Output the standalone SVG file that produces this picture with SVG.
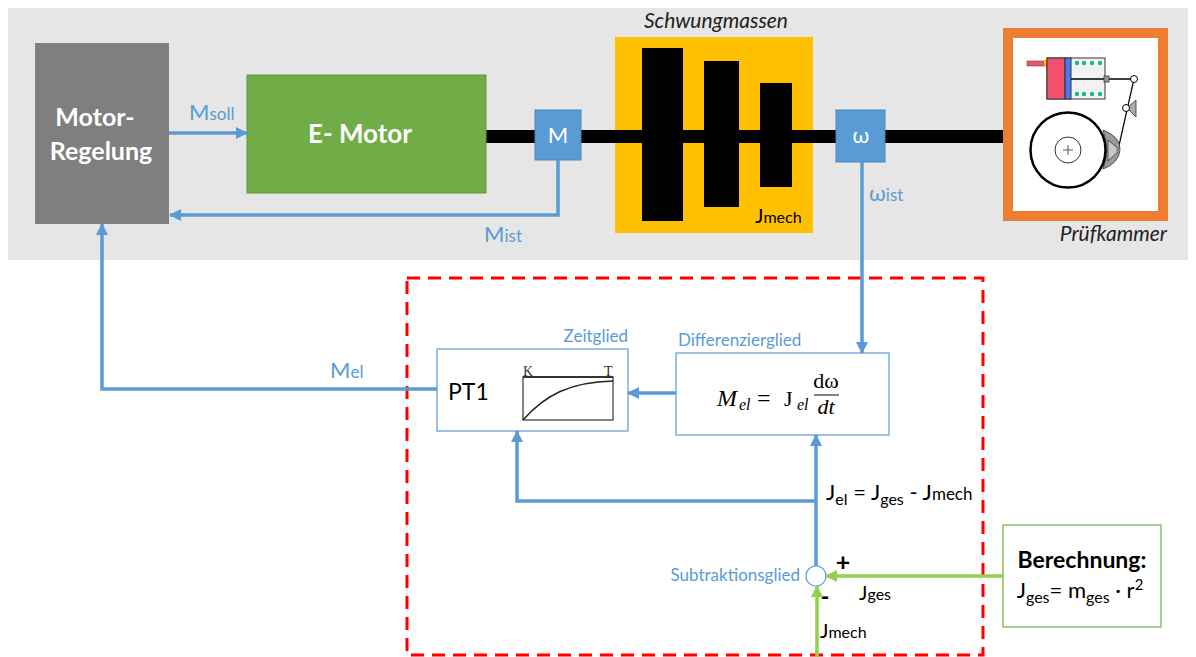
<svg xmlns="http://www.w3.org/2000/svg" width="1196" height="657" viewBox="0 0 1196 657">
  <defs>
    <style>
      .sans { font-family: Lato, "Open Sans", "Liberation Sans", sans-serif; }
      .serif { font-family: "Liberation Serif", "DejaVu Serif", serif; }
      .lbl { fill: #5b9bd5; }
      .small-lbl { font-size: 17px; }
      .blue-line { fill: none; stroke: #5b9bd5; stroke-width: 3.5; }
      .green-line { fill: none; stroke: #92d050; stroke-width: 3.5; }
      .thin-box { fill: #ffffff; stroke: #5b9bd5; stroke-width: 1.2; }
    </style>
    <marker id="arrow-blue" markerUnits="userSpaceOnUse" markerWidth="12" markerHeight="12" viewBox="0 0 12 12" refX="11" refY="6" orient="auto">
      <path d="M0,0 L12,6 L0,12 Z" fill="#5b9bd5"/>
    </marker>
    <marker id="arrow-green" markerUnits="userSpaceOnUse" markerWidth="12" markerHeight="12" viewBox="0 0 12 12" refX="11" refY="6" orient="auto">
      <path d="M0,0 L12,6 L0,12 Z" fill="#92d050"/>
    </marker>
  </defs>

  <rect width="1196" height="657" fill="#ffffff"/>

  <!-- test bench background -->
  <rect id="bench" x="8" y="8" width="1180" height="252" fill="#e7e6e6"/>

  <!-- flywheel housing -->
  <g id="schwungmassen">
    <rect x="615" y="37" width="198" height="196" fill="#ffc000"/>
    <text class="sans" x="716" y="28" font-size="21" font-style="italic" text-anchor="middle" fill="#222">Schwungmassen</text>
  </g>

  <!-- shaft -->
  <rect id="shaft" x="486" y="130" width="518" height="13" fill="#000"/>

  <g id="flywheel-discs" fill="#000">
    <rect x="642" y="48" width="41" height="173"/>
    <rect x="704" y="61" width="35" height="146"/>
    <rect x="760" y="83" width="32" height="104"/>
    <text class="sans" x="755" y="223" font-size="20" fill="#000">J<tspan font-size="16">mech</tspan></text>
  </g>

  <g id="motor-regelung">
    <rect x="35" y="43" width="134" height="181" fill="#7f7f7f"/>
    <text class="sans" x="95" y="126" font-size="25" font-weight="bold" text-anchor="middle" fill="#fff">Motor-</text>
    <text class="sans" x="101" y="160" font-size="25" font-weight="bold" text-anchor="middle" fill="#fff">Regelung</text>
  </g>

  <g id="e-motor">
    <rect x="247" y="75" width="239" height="118" fill="#70ad47" stroke="#5e9a3a" stroke-width="1"/>
    <text class="sans" x="360" y="143" font-size="26" font-weight="bold" text-anchor="middle" fill="#fff">E- Motor</text>
  </g>

  <g id="sensor-m">
    <rect x="535" y="110" width="46" height="50" fill="#5b9bd5" stroke="#4a86c0" stroke-width="1"/>
    <text class="sans" x="558" y="143" font-size="22" text-anchor="middle" fill="#fff">M</text>
  </g>

  <g id="sensor-omega">
    <rect x="836" y="110" width="49" height="52" fill="#5b9bd5" stroke="#4a86c0" stroke-width="1"/>
    <text class="sans" x="861" y="143" font-size="22" text-anchor="middle" fill="#fff">ω</text>
  </g>

  <g id="pruefkammer">
    <rect x="1008" y="33" width="155" height="183" fill="#ffffff" stroke="#ed7d31" stroke-width="10"/>
    <!-- actuator cylinder -->
    <rect x="1027" y="61" width="19" height="5" fill="#f4506e" stroke="#555" stroke-width="0.6"/>
    <rect x="1044" y="60" width="3" height="7" fill="#ffc000"/>
    <rect x="1047" y="58" width="58" height="41" fill="#f2f2f2" stroke="#333" stroke-width="1"/>
    <rect x="1047" y="58" width="18" height="41" fill="#f4506e" stroke="#333" stroke-width="1"/>
    <rect x="1065" y="58" width="6" height="41" fill="#4a78ee" stroke="#333" stroke-width="1"/>
    <g fill="#21b38a">
      <circle cx="1077" cy="63" r="2.2"/><circle cx="1084" cy="63" r="2.2"/><circle cx="1092" cy="63" r="2.2"/><circle cx="1100" cy="63" r="2.2"/>
      <circle cx="1077" cy="94" r="2.2"/><circle cx="1084" cy="94" r="2.2"/><circle cx="1092" cy="94" r="2.2"/><circle cx="1100" cy="94" r="2.2"/>
    </g>
    <line x1="1071" y1="79" x2="1134" y2="79" stroke="#000" stroke-width="1.6"/>
    <rect x="1104" y="76" width="5" height="6" fill="#999" stroke="#333" stroke-width="0.8"/>
    <!-- lever -->
    <polygon points="1127,108 1136,100 1136,117" fill="#aaa" stroke="#333" stroke-width="0.8"/>
    <line x1="1134" y1="79" x2="1118" y2="150" stroke="#000" stroke-width="1.2"/>
    <circle cx="1134" cy="79" r="3.5" fill="#fff" stroke="#000" stroke-width="1"/>
    <circle cx="1126" cy="108" r="3.5" fill="#fff" stroke="#000" stroke-width="1"/>
    <!-- brake shoe -->
    <path d="M1103,130 Q1121,137 1120,150 Q1119,163 1103,169 Q1110,150 1103,130 Z" fill="#9a9a9a" stroke="#333" stroke-width="0.8"/>
    <polygon points="1108,140 1120,150 1108,161" fill="#c8c8c8" stroke="#333" stroke-width="0.8"/>
    <circle cx="1118" cy="150" r="2" fill="#888"/>
    <!-- drum -->
    <circle cx="1068" cy="150" r="37.5" fill="#fff" stroke="#000" stroke-width="2.5"/>
    <circle cx="1068" cy="150" r="13" fill="none" stroke="#333" stroke-width="1"/>
    <path d="M1063,150 H1073 M1068,145 V155" stroke="#555" stroke-width="1"/>
    <text class="sans" x="1167" y="241" font-size="21" font-style="italic" text-anchor="end" fill="#222">Prüfkammer</text>
  </g>

  <!-- observer boundary -->
  <rect id="beobachter" x="407" y="278" width="576" height="377" fill="none" stroke="#ff0000" stroke-width="3" stroke-dasharray="13 8"/>

  <g id="pt1">
    <rect class="thin-box" x="437" y="349" width="191" height="82"/>
    <text class="sans" x="448" y="400" font-size="23" fill="#000">PT1</text>
    <rect x="523" y="377" width="90" height="43" fill="none" stroke="#333" stroke-width="1.2"/>
    <line x1="523" y1="377" x2="613" y2="377" stroke="#333" stroke-width="2"/>
    <path d="M523,420 C545,395 570,382 613,381" fill="none" stroke="#222" stroke-width="1.5"/>
    <text class="serif" x="523" y="376" font-size="14" fill="#333">K</text>
    <text class="serif" x="604" y="376" font-size="14" fill="#333">T</text>
    <text class="sans lbl small-lbl" x="628" y="342" text-anchor="end">Zeitglied</text>
  </g>

  <g id="differenzierglied">
    <rect class="thin-box" x="676" y="353" width="213" height="82"/>
    <text class="sans lbl small-lbl" x="678" y="346">Differenzierglied</text>
    <text class="serif" x="717" y="406" font-size="24" font-style="italic" fill="#000">M</text>
    <text class="serif" x="739" y="410" font-size="16" font-style="italic" fill="#000">el</text>
    <text class="serif" x="757" y="406" font-size="24" fill="#000">=</text>
    <text class="serif" x="784" y="406" font-size="22" fill="#000">J</text>
    <text class="serif" x="797" y="410" font-size="16" font-style="italic" fill="#000">el</text>
    <text class="serif" x="826" y="388" font-size="22" text-anchor="middle" fill="#000">dω</text>
    <line x1="814" y1="395" x2="839" y2="395" stroke="#000" stroke-width="1"/>
    <text class="serif" x="826" y="414" font-size="22" font-style="italic" text-anchor="middle" fill="#000">dt</text>
  </g>

  <g id="subtraktionsglied">
    <circle cx="816" cy="576" r="10" fill="#fff" stroke="#5b9bd5" stroke-width="1.2"/>
    <text class="sans lbl small-lbl" x="800" y="581" text-anchor="end">Subtraktionsglied</text>
    <text class="sans" x="843" y="571" font-size="25" font-weight="bold" text-anchor="middle" fill="#000">+</text>
    <text class="sans" x="825" y="605" font-size="24" font-weight="bold" text-anchor="middle" fill="#000">-</text>
  </g>

  <g id="berechnung">
    <rect x="1003" y="525" width="158" height="102" fill="#fff" stroke="#70ad47" stroke-width="1.2"/>
    <text class="sans" x="1082" y="568" font-size="23" font-weight="bold" text-anchor="middle" fill="#000">Berechnung:</text>
    <text class="sans" x="1080" y="598" font-size="22" text-anchor="middle" fill="#000">J<tspan font-size="16" dy="5">ges</tspan><tspan dy="-5">= m</tspan><tspan font-size="16" dy="5">ges</tspan><tspan dy="-5"> · r</tspan><tspan font-size="15" dy="-8">2</tspan></text>
  </g>

  <g id="connectors">
    <path class="blue-line" d="M169,133 H247" marker-end="url(#arrow-blue)"/>
    <path class="blue-line" d="M558,160 V215 H170" marker-end="url(#arrow-blue)"/>
    <path class="blue-line" d="M862,162 V353" marker-end="url(#arrow-blue)"/>
    <path class="blue-line" d="M676,393 H628" marker-end="url(#arrow-blue)"/>
    <path class="blue-line" d="M437,389 H102 V224" marker-end="url(#arrow-blue)"/>
    <path class="blue-line" d="M816,566 V435" marker-end="url(#arrow-blue)"/>
    <path class="blue-line" d="M816,501 H517 V431" marker-end="url(#arrow-blue)"/>
    <path class="green-line" d="M1003,576 H826" marker-end="url(#arrow-green)"/>
    <path class="green-line" d="M817,657 V586" marker-end="url(#arrow-green)"/>

    <text class="sans lbl" x="189" y="120" font-size="22">M<tspan font-size="17">soll</tspan></text>
    <text class="sans lbl" x="484" y="242" font-size="22">M<tspan font-size="17">ist</tspan></text>
    <text class="sans lbl" x="869" y="201" font-size="22">ω<tspan font-size="17">ist</tspan></text>
    <text class="sans lbl" x="330" y="378" font-size="22">M<tspan font-size="17">el</tspan></text>
    <text class="sans" x="826" y="500" font-size="22" fill="#000">J<tspan font-size="16" dy="5">el</tspan><tspan dy="-5"> = J</tspan><tspan font-size="16" dy="5">ges</tspan><tspan dy="-5"> - J</tspan><tspan font-size="17">mech</tspan></text>
    <text class="sans" x="859" y="600" font-size="20" fill="#000">J<tspan font-size="16">ges</tspan></text>
    <text class="sans" x="820" y="638" font-size="20" fill="#000">J<tspan font-size="16">mech</tspan></text>
  </g>
</svg>
